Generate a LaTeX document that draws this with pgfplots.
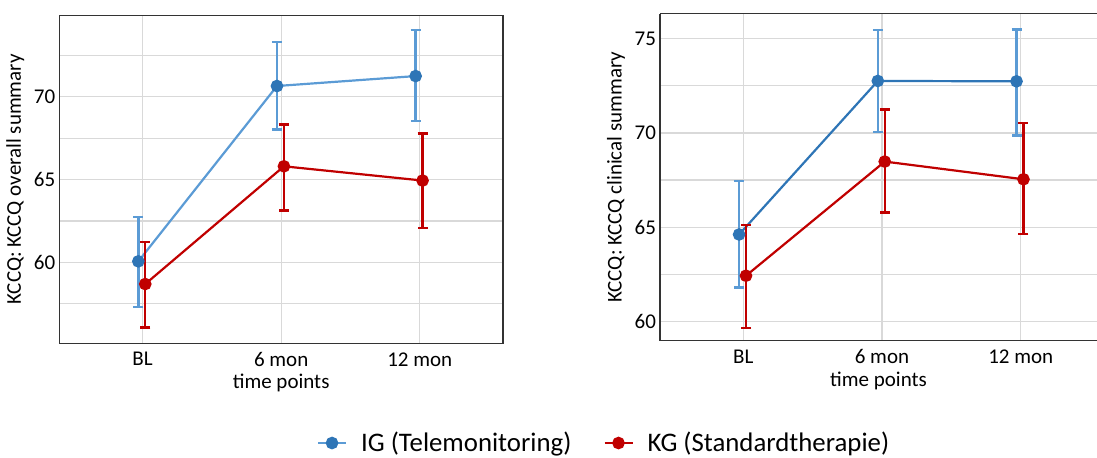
\documentclass[border=0pt]{standalone}
\usepackage{pgfplots}
\pgfplotsset{compat=1.18}
\usepackage{pgfplotstable}
\usepackage{fontspec}
\setmainfont{Carlito}
\definecolor{igd}{HTML}{2E75B6}
\definecolor{igl}{HTML}{5B9BD5}
\definecolor{kg}{HTML}{C00000}

\pgfplotstableread{
x y ep em
-0.03 60.06 2.68 2.74
0.97 70.65 2.65 2.62
1.97 71.25 2.80 2.70
}\igA
\pgfplotstableread{
x y ep em
0.02 58.69 2.54 2.62
1.02 65.80 2.53 2.67
2.02 64.94 2.85 2.86
}\kgA
\pgfplotstableread{
x y ep em
-0.03 64.61 2.83 2.81
0.97 72.76 2.72 2.71
1.97 72.74 2.75 2.88
}\igB
\pgfplotstableread{
x y ep em
0.02 62.42 2.70 2.78
1.02 68.48 2.76 2.70
2.02 67.54 2.99 2.89
}\kgB

\pgfplotsset{
  myaxis/.style={
    scale only axis,
    xmin=-0.6,
    xtick={0,1,2},
    xticklabels={BL,6 mon,12 mon},
    major tick length=0pt,
    minor tick length=0pt,
    grid=both,
    major grid style={gray!30, line width=0.6pt},
    minor grid style={gray!30, line width=0.6pt},
    axis line style={black!80, line width=0.6pt},
    tick label style={font=\fontsize{10.5}{12}\selectfont},
    label style={font=\fontsize{10.5}{12}\selectfont},
    /pgf/number format/assume math mode=true,
    xlabel={time points},
    xticklabel style={yshift=-1pt},
    xlabel style={yshift=3pt},
    yticklabel style={xshift=1.5pt},
    ylabel style={yshift=-2pt},
    clip=false,
  },
  errplot/.style={forget plot, draw=none, mark=none,
    error bars/.cd, y dir=both, y explicit,
    error bar style={color=#1, line width=1.2pt},
    error mark options={color=#1, line width=1.2pt, mark size=2.5pt, rotate=90}},
}

\begin{document}
\begin{tikzpicture}[x=1pt,y=1pt]
\useasboundingbox (0,0) rectangle (548.5,228.5);
\begin{axis}[myaxis,
  at={(29.65pt,56.85pt)}, anchor=south west,
  width=221.85pt, height=164pt,
  xmax=2.6,
  ymin=55.11, ymax=74.92,
  ytick={60,65,70},
  minor ytick={57.5,62.5,67.5,72.5},
  ylabel={KCCQ: KCCQ overall summary},
  legend style={at={(rel axis cs:1.230,-0.304)}, anchor=center, draw=none, fill=none,
    legend columns=2, font=\fontsize{13.4}{15}\selectfont,
    /tikz/every odd column/.append style={column sep=5pt},
    /tikz/every even column/.append style={column sep=14pt}},
  legend image code/.code={\draw[#1, mark repeat=2, mark phase=2] plot coordinates {(0pt,0pt) (7pt,0pt) (14pt,0pt)};},
]
\addplot[errplot=igl] table[x=x,y=y,y error plus=ep,y error minus=em]{\igA};
\addplot[color=igl, line width=1.1pt, mark=*, mark size=2.6pt, mark options={fill=igd, draw=igd}] table[x=x,y=y]{\igA};
\addlegendentry{IG (Telemonitoring)}
\addplot[errplot=kg] table[x=x,y=y,y error plus=ep,y error minus=em]{\kgA};
\addplot[color=kg, line width=1.1pt, mark=*, mark size=2.6pt, mark options={fill=kg, draw=kg}] table[x=x,y=y]{\kgA};
\addlegendentry{KG (Standardtherapie)}
\end{axis}

\begin{axis}[myaxis,
  at={(330pt,58.15pt)}, anchor=south west,
  width=218.5pt, height=163.5pt,
  xmax=2.55,
  axis y line*=left,
  ymin=58.97, ymax=76.33,
  ytick={60,65,70,75},
  minor ytick={62.5,67.5,72.5},
  ylabel={KCCQ: KCCQ clinical summary},
]
\addplot[errplot=igl] table[x=x,y=y,y error plus=ep,y error minus=em]{\igB};
\addplot[color=igd, line width=1.1pt, mark=*, mark size=2.6pt, mark options={fill=igd, draw=igd}] table[x=x,y=y]{\igB};
\addplot[errplot=kg] table[x=x,y=y,y error plus=ep,y error minus=em]{\kgB};
\addplot[color=kg, line width=1.1pt, mark=*, mark size=2.6pt, mark options={fill=kg, draw=kg}] table[x=x,y=y]{\kgB};
\end{axis}
\end{tikzpicture}
\end{document}
